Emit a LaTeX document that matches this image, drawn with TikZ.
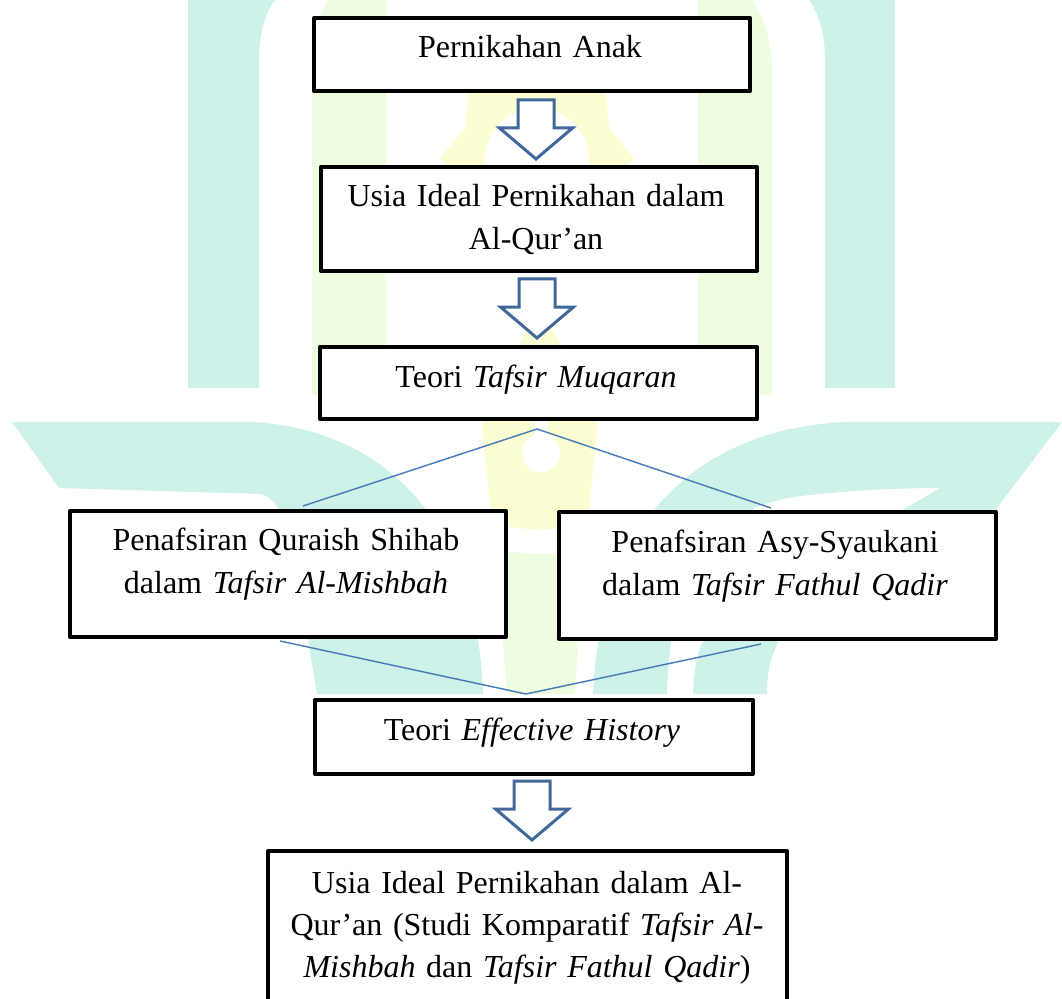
\documentclass[tikz,border=0pt]{standalone}
\usepackage{fontspec}
\setmainfont{Liberation Serif}
\usetikzlibrary{calc}
\definecolor{wmteal}{RGB}{206,241,234}
\definecolor{wmgreen}{RGB}{238,252,224}
\definecolor{wmyellow}{RGB}{253,253,212}
\definecolor{arrowblue}{RGB}{65,104,155}
\definecolor{linkblue}{RGB}{74,126,187}
\begin{document}
\begin{tikzpicture}[x=0.75pt,y=-0.75pt,
  box/.style 2 args={draw=black, line width=3pt, fill=white, line join=round,
    inner sep=0pt, anchor=north west, minimum width=#1*0.75pt, minimum height=#2*0.75pt},
  txt/.style={font=\fontsize{24}{32.25}\selectfont, text width=400pt, align=center,
    inner sep=0pt, anchor=base},
  barrow/.style={draw=arrowblue, line width=2.25pt, fill=white, line join=miter},
  conn/.style={draw=linkblue, line width=1.1pt},
  downarrow/.pic={\draw[barrow] (-18,0) -- (18,0) -- (18,28) -- (36.5,28) -- (0,59)
     -- (-36.5,28) -- (-18,28) -- cycle;}]
\useasboundingbox (0,0) rectangle (1062,998);
\clip (0,0) rectangle (1062,998);
% ---------- watermark ----------
\fill[wmteal] (188,-5) -- (188,388) -- (259,388) -- (259,60) .. controls (259,30) and (266,12) .. (278,-5) -- cycle;
\fill[wmteal] (895,-5) -- (895,388) -- (825,388) -- (825,60) .. controls (825,30) and (818,12) .. (806,-5) -- cycle;
\fill[wmgreen] (312,395) -- (312,80) .. controls (312,40) and (318,15) .. (330,-5) -- (386,-5) -- (386,395) -- cycle;
\fill[wmgreen] (772,395) -- (772,70) .. controls (772,40) and (762,10) .. (748,-5) -- (698,-5) -- (698,395) -- cycle;
% star
\fill[wmyellow] plot[samples at={0,22.5,...,337.5}, variable=\a]
  ({537+ (mod(round(\a/22.5),2)==0 ? 97 : 78)*cos(\a)}, {158 - (mod(round(\a/22.5),2)==0 ? 97 : 78)*sin(\a)}) -- cycle;
\fill[white] (537,160) circle[radius=52];
% pen
\fill[wmyellow] (531,322) -- (549,322) -- (598,420) -- (597,430) -- (588,522) .. controls (560,532) and (520,532) .. (492,522) -- (482,430) -- (482,420) -- cycle;
\fill[white] (541,453) circle[radius=19];
\fill[white] (535,418) rectangle (548,445);
\fill[wmgreen] (496,548) .. controls (520,556) and (560,556) .. (584,548) -- (575,694) -- (507,694) -- cycle;
% wings
\fill[wmteal] (12,422) -- (250,422) .. controls (390,428) and (478,530) .. (483,694)
  -- (317,694) .. controls (300,600) and (295,500) .. (260,494) -- (59,488) -- cycle;
\fill[wmteal] (1062,422) -- (847,422) .. controls (700,428) and (600,520) .. (593,694)
  -- (667,694) .. controls (670,600) and (690,515) .. (793,497) .. controls (850,490) and (900,488) .. (940,488) -- cycle;
\fill[wmteal] (1062,422) -- (993,513) .. controls (900,575) and (800,615) .. (780,640)
  .. controls (770,655) and (767,675) .. (767,694) -- (693,694) .. controls (694,670) and (697,650) .. (705,638)
  .. controls (740,590) and (880,525) .. (940,488) -- cycle;
% ---------- boxes ----------
\node[box={436}{73}]  (b1) at (312,16)  {};
\node[box={436}{104}] (b2) at (319,165) {};
\node[box={437}{72}]  (b3) at (318,345) {};
\node[box={436}{126}] (b4) at (68,509)  {};
\node[box={437}{127}] (b5) at (557,510) {};
\node[box={438}{74}]  (b6) at (313,698) {};
\node[box={519}{170}] (b7) at (266,849) {};
% ---------- texts ----------
\node[txt] (t1) at (530,58)  {Pernikahan Anak};
\node[txt] (t2) at (536,207) {Usia Ideal Pernikahan dalam\\Al-Qur’an};
\node[txt] (t3) at (536,387) {Teori \textit{Tafsir Muqaran}};
\node[txt] (t4) at (286,550) {Penafsiran Quraish Shihab\\dalam \textit{Tafsir Al-Mishbah}};
\node[txt] (t5) at (775,552) {Penafsiran Asy-Syaukani\\dalam \textit{Tafsir Fathul Qadir}};
\node[txt] (t6) at (532,740) {Teori \textit{Effective History}};
\node[txt, font=\fontsize{24}{31.5}\selectfont] (t7) at (527,893) {Usia Ideal Pernikahan dalam Al-\\Qur’an (Studi Komparatif \textit{Tafsir Al-}\\\textit{Mishbah} dan \textit{Tafsir Fathul Qadir})};
% ---------- connectors ----------
\coordinate (split) at ($(b3.south)+(-1.5,8)$);
\coordinate (merge) at ($(b6.north)+(-8,-4)$);
\draw[conn] ($(b4.north)+(15,-3)$) -- (split) -- ($(b5.north)+(-6.5,-2)$);
\draw[conn] ($(b4.south)+(-8,2)$) -- (merge) -- ($(b5.south)+(-16.5,3)$);
\pic at ($(b1.south)+(4,7)$) {downarrow};
\pic at ($(b2.south)+(-2,6)$) {downarrow};
\pic at ($(b6.south)+(-2,5)$) {downarrow};
\end{tikzpicture}
\end{document}
